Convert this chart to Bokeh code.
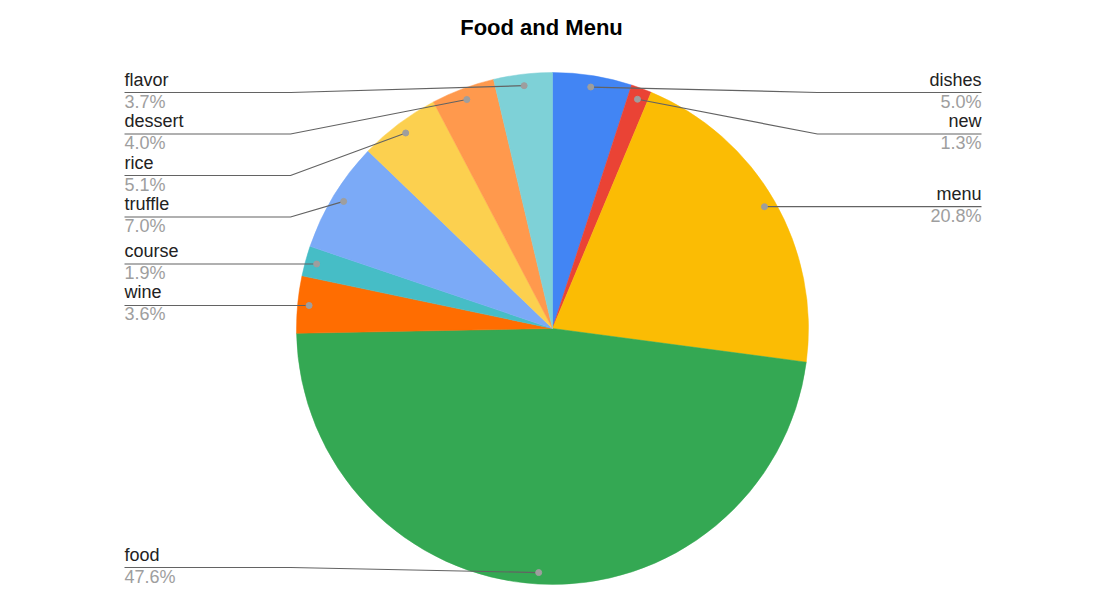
import numpy as np
from bokeh.plotting import figure
from bokeh.models import Range1d, ColumnDataSource
from bokeh.core.properties import value
from bokeh.embed import file_html
from bokeh.resources import INLINE

# ---- data ----
categories = ["dishes", "new", "menu", "food", "wine", "course", "truffle", "rice", "dessert", "flavor"]
percents = [5.0, 1.3, 20.8, 47.6, 3.6, 1.9, 7.0, 5.1, 4.0, 3.7]
colors = ["#4285F4", "#EA4335", "#FBBC04", "#34A853", "#FF6D01", "#46BDC6",
          "#7BAAF7", "#FCD04F", "#FF994D", "#7ED1D7"]
title_text = "Food and Menu"

# ---- layout (page pixel coordinates; data y = H - pixel y) ----
W, H = 1097, 616
CX, CY = 552, 328          # pie centre (pixels)
R = 256                    # pie radius
DOT_R = 0.955 * R          # leader anchor distance
LEFT_X, RIGHT_X = 124, 981
LEFT_ELBOW, RIGHT_ELBOW = 290, 817
TOP_LIMIT, BOTTOM_LIMIT = 92, 567
SPACING = 41.5
TXT_SHIFT = 8              # text baseline correction
TITLE_X = 541

p = figure(width=W - 16, height=H - 16, output_backend="svg", toolbar_location=None,
           x_range=Range1d(0, W - 16), y_range=Range1d(16, H), min_border=0)
p.axis.visible = False
p.grid.visible = False
p.outline_line_color = None
p.background_fill_color = "white"
p.border_fill_color = "white"

vals = np.array(percents) / 100.0
cum = np.concatenate([[0], np.cumsum(vals)])
theta0 = cum[:-1] * 2 * np.pi
theta1 = cum[1:] * 2 * np.pi
mid = (theta0 + theta1) / 2

src = ColumnDataSource(dict(start=np.pi / 2 - theta1, end=np.pi / 2 - theta0,
                            color=colors, cat=categories))
p.wedge(x=CX, y=H - CY, radius=R, start_angle="start", end_angle="end",
        fill_color="color", line_color="color", line_width=0.5, source=src)

ax = CX + DOT_R * np.sin(mid)
ay = CY - DOT_R * np.cos(mid)
right = np.sin(mid) > 0

label_y = np.zeros(len(categories))
for side in (True, False):
    idx = [i for i in range(len(categories)) if right[i] == side]
    idx.sort(key=lambda i: ay[i])
    prev = -1e9
    ys = []
    for i in idx:
        y = min(max(ay[i], TOP_LIMIT), BOTTOM_LIMIT)
        y = max(y, prev + SPACING)
        ys.append(y)
        prev = y
    nxt = 1e9
    for k in range(len(idx) - 1, -1, -1):
        ys[k] = min(ys[k], BOTTOM_LIMIT, nxt - SPACING)
        nxt = ys[k]
    for k, i in enumerate(idx):
        label_y[i] = ys[k]

xs_lines, ys_lines = [], []
for i in range(len(categories)):
    ly = label_y[i]
    if right[i]:
        xs = [RIGHT_X, RIGHT_ELBOW, ax[i]]
    else:
        xs = [LEFT_X, LEFT_ELBOW, ax[i]]
    yy = [ly, ly, ay[i]]
    xs_lines.append(xs)
    ys_lines.append([H - v for v in yy])
p.multi_line(xs=xs_lines, ys=ys_lines, line_color="#636363", line_width=1.2)
p.scatter(x=ax, y=H - ay, size=6, fill_color="#9e9e9e", line_color="#9e9e9e")

font = value("Liberation Sans")
lx = np.where(right, RIGHT_X, LEFT_X)
align = ["right" if r else "left" for r in right]
pct = [f"{v:.1f}%" for v in percents]
lab = ColumnDataSource(dict(x=lx, yn=H - (label_y - 5 - TXT_SHIFT), yp=H - (label_y + 17 - TXT_SHIFT),
                            name=categories, pct=pct, align=align))
p.text(x="x", y="yn", text="name", text_align="align", text_baseline="alphabetic",
       text_font=font, text_font_size="18px", text_color="#222222", source=lab)
p.text(x="x", y="yp", text="pct", text_align="align", text_baseline="alphabetic",
       text_font=font, text_font_size="18px", text_color="#9e9e9e", source=lab)

p.text(x=[TITLE_X], y=[H - (35 - TXT_SHIFT)], text=[title_text], text_align="center", text_baseline="alphabetic",
       text_font=font, text_font_size="22px", text_font_style="bold", text_color="#000000")

open("out.html", "w").write(file_html(p, INLINE))
